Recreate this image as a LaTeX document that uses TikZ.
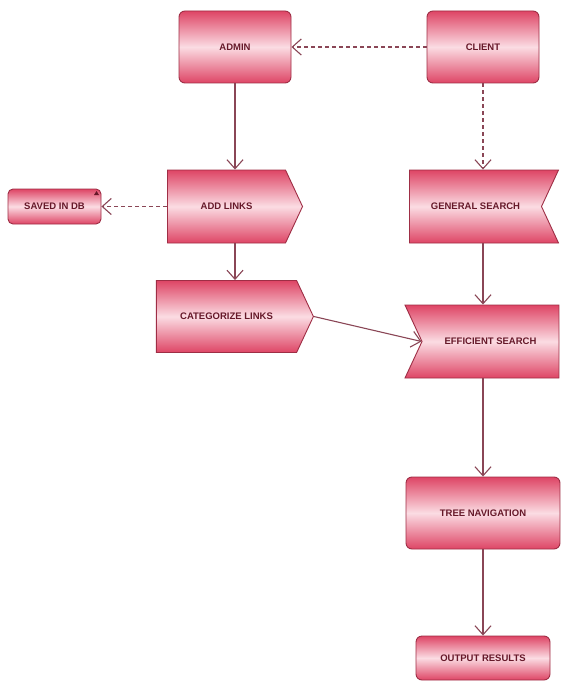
\documentclass[tikz,border=0pt]{standalone}
\usepackage{fontspec}
\setmainfont{Liberation Sans}
\usetikzlibrary{shapes.symbols,arrows.meta}
\definecolor{boxred}{HTML}{DE4565}
\definecolor{boxpale}{HTML}{FBDCE3}
\definecolor{boxline}{HTML}{9E2E45}
\definecolor{boxtext}{HTML}{661829}
\definecolor{flow}{HTML}{8A4656}
\begin{document}
\begin{tikzpicture}[x=1pt,y=-1pt,
  box/.style={shade, top color=boxred, bottom color=boxred, middle color=boxpale,
    draw=boxline, line width=0.9pt, text=boxtext, inner sep=0pt,
    font=\bfseries\fontsize{9.5}{11}\selectfont},
  rbox/.style={box, rectangle, rounded corners=6pt},
  sig/.style={box, signal, signal pointer angle=130},
  flowline/.style={draw=flow, line width=1.1pt, -{Straight Barb[length=9pt,width=16pt]}},
  dashflow/.style={flowline, dash pattern=on 4pt off 3pt}]
\useasboundingbox (0,0) rectangle (560,682);

% actors
\node[rbox, minimum width=112pt, minimum height=72pt] (admin)  at (235,47) {ADMIN};
\node[rbox, minimum width=112pt, minimum height=72pt] (client) at (483,47) {CLIENT};

% admin side
\node[sig, signal to=east, minimum width=135pt, minimum height=73pt] (add) at (226.5,206.5) {ADD LINKS};
\node[rbox, rounded corners=5pt, minimum width=93pt, minimum height=35pt] (saved) at (54.5,206.5) {SAVED IN DB};
\fill[boxtext] (94,195) -- (96.5,191) -- (99,195) -- cycle;
\node[sig, signal to=east, minimum width=157pt, minimum height=72pt] (cat) at (226.5,316.5) {CATEGORIZE LINKS};

% client side
\node[sig, signal from=east, signal to=nowhere, minimum width=149pt, minimum height=73pt] (general) at (475.5,206.5) {GENERAL SEARCH};
\node[sig, signal from=west, signal to=nowhere, minimum width=154pt, minimum height=73pt] (eff) at (490.5,341.5) {EFFICIENT SEARCH};
\node[rbox, minimum width=154pt, minimum height=72pt] (tree) at (483,513) {TREE NAVIGATION};
\node[rbox, minimum width=134pt, minimum height=44pt] (out) at (483,658) {OUTPUT RESULTS};

% connectors
\draw[dashflow] (client.west) -- (admin.east);
\draw[flowline] (admin.south) -- (admin.south |- add.north);
\draw[dashflow] (add.west) -- (saved.east);
\draw[flowline] (admin.south |- add.south) -- (admin.south |- cat.north);
\draw[dashflow] (client.south) -- (client.south |- general.north);
\draw[flowline] (client.south |- general.south) -- (client.south |- eff.north);
\draw[flowline] (cat.east) -- (eff.west);
\draw[flowline] (client.south |- eff.south) -- (client.south |- tree.north);
\draw[flowline] (tree.south) -- (out.north);
\end{tikzpicture}
\end{document}
